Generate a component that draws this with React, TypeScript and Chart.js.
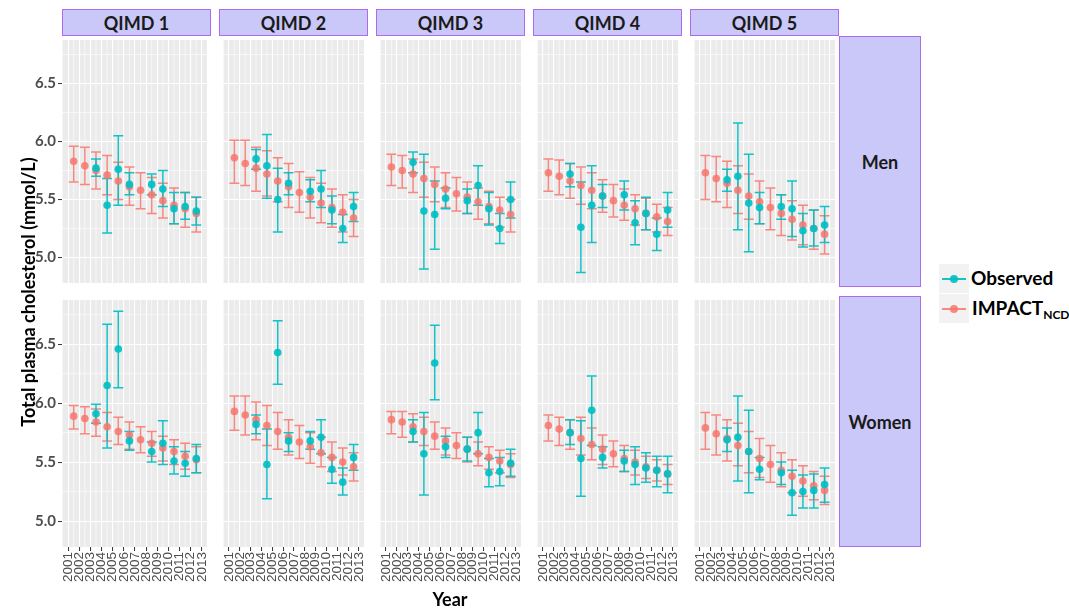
import React, { useEffect, useRef } from "react";
import { Chart, registerables } from "chart.js";

Chart.register(...registerables);

// ---------- labels / ticks ----------
const tickYears = [2001, 2002, 2003, 2004, 2005, 2006, 2007, 2008, 2009, 2010, 2011, 2012, 2013];
const surveyX = [2001.5, 2002.5, 2003.5, 2004.5, 2005.5, 2006.5, 2007.5, 2008.5, 2009.5, 2010.5, 2011.5, 2012.5];
const yTickValues = [5.0, 5.5, 6.0, 6.5];
const yMinorValues = [4.75, 5.25, 5.75, 6.25, 6.75];
const xMinorValues = [2000.5, 2001.5, 2002.5, 2003.5, 2004.5, 2005.5, 2006.5, 2007.5, 2008.5, 2009.5, 2010.5, 2011.5, 2012.5, 2013.5];
const qimdLabels = ["QIMD 1", "QIMD 2", "QIMD 3", "QIMD 4", "QIMD 5"];
const sexLabels = ["Men", "Women"];

// ---------- Men ----------
const menQ1Impact = [5.83, 5.79, 5.75, 5.71, 5.66, 5.61, 5.58, 5.54, 5.49, 5.45, 5.42, 5.38];
const menQ1ImpactHi = [5.96, 5.95, 5.91, 5.88, 5.82, 5.78, 5.73, 5.69, 5.64, 5.60, 5.56, 5.52];
const menQ1ImpactLo = [5.65, 5.63, 5.59, 5.54, 5.50, 5.45, 5.42, 5.38, 5.34, 5.29, 5.26, 5.22];
const menQ1Obs = [null, null, 5.77, 5.45, 5.76, 5.63, null, 5.63, 5.59, 5.42, 5.44, 5.40];
const menQ1ObsHi = [null, null, 5.85, 5.68, 6.05, 5.73, null, 5.72, 5.75, 5.56, 5.56, 5.52];
const menQ1ObsLo = [null, null, 5.70, 5.21, 5.45, 5.54, null, 5.54, 5.44, 5.29, 5.33, 5.28];

const menQ2Impact = [5.86, 5.81, 5.77, 5.72, 5.66, 5.61, 5.56, 5.52, 5.47, 5.43, 5.39, 5.34];
const menQ2ImpactHi = [6.01, 6.01, 5.95, 5.92, 5.86, 5.81, 5.74, 5.69, 5.64, 5.59, 5.54, 5.50];
const menQ2ImpactLo = [5.64, 5.62, 5.57, 5.53, 5.48, 5.43, 5.39, 5.34, 5.30, 5.26, 5.22, 5.18];
const menQ2Obs = [null, null, 5.85, 5.79, 5.50, 5.64, null, 5.57, 5.59, 5.41, 5.25, 5.44];
const menQ2ObsHi = [null, null, 5.93, 6.06, 5.77, 5.73, null, 5.67, 5.75, 5.53, 5.37, 5.56];
const menQ2ObsLo = [null, null, 5.76, 5.51, 5.22, 5.54, null, 5.48, 5.43, 5.29, 5.13, 5.31];

const menQ3Impact = [5.78, 5.75, 5.72, 5.68, 5.63, 5.59, 5.55, 5.52, 5.48, 5.44, 5.41, 5.37];
const menQ3ImpactHi = [5.89, 5.88, 5.85, 5.82, 5.78, 5.73, 5.69, 5.65, 5.60, 5.57, 5.52, 5.50];
const menQ3ImpactLo = [5.62, 5.60, 5.56, 5.52, 5.48, 5.43, 5.40, 5.38, 5.33, 5.29, 5.26, 5.22];
const menQ3Obs = [null, null, 5.82, 5.40, 5.37, 5.51, null, 5.49, 5.62, 5.42, 5.25, 5.50];
const menQ3ObsHi = [null, null, 5.91, 5.89, 5.66, 5.60, null, 5.59, 5.79, 5.56, 5.38, 5.65];
const menQ3ObsLo = [null, null, 5.73, 4.90, 5.07, 5.42, null, 5.38, 5.45, 5.28, 5.12, 5.34];

const menQ4Impact = [5.73, 5.70, 5.66, 5.62, 5.58, 5.53, 5.49, 5.45, 5.42, 5.38, 5.35, 5.31];
const menQ4ImpactHi = [5.85, 5.84, 5.81, 5.78, 5.73, 5.67, 5.63, 5.59, 5.54, 5.51, 5.46, 5.43];
const menQ4ImpactLo = [5.57, 5.54, 5.51, 5.46, 5.42, 5.39, 5.35, 5.32, 5.28, 5.24, 5.22, 5.19];
const menQ4Obs = [null, null, 5.72, 5.26, 5.45, 5.53, null, 5.54, 5.30, 5.38, 5.20, 5.41];
const menQ4ObsHi = [null, null, 5.81, 5.65, 5.79, 5.63, null, 5.66, 5.49, 5.52, 5.34, 5.56];
const menQ4ObsLo = [null, null, 5.61, 4.87, 5.13, 5.43, null, 5.41, 5.11, 5.24, 5.06, 5.26];

const menQ5Impact = [5.73, 5.68, 5.64, 5.58, 5.53, 5.48, 5.43, 5.38, 5.33, 5.28, 5.25, 5.20];
const menQ5ImpactHi = [5.88, 5.87, 5.83, 5.79, 5.72, 5.66, 5.60, 5.54, 5.49, 5.45, 5.41, 5.36];
const menQ5ImpactLo = [5.50, 5.48, 5.43, 5.38, 5.33, 5.29, 5.24, 5.19, 5.15, 5.11, 5.07, 5.03];
const menQ5Obs = [null, null, 5.67, 5.70, 5.47, 5.43, null, 5.44, 5.42, 5.23, 5.25, 5.28];
const menQ5ObsHi = [null, null, 5.76, 6.16, 5.89, 5.56, null, 5.54, 5.66, 5.38, 5.41, 5.44];
const menQ5ObsLo = [null, null, 5.57, 5.24, 5.05, 5.29, null, 5.33, 5.18, 5.09, 5.10, 5.13];

// ---------- Women ----------
const womenQ1Impact = [5.89, 5.87, 5.84, 5.80, 5.76, 5.73, 5.69, 5.66, 5.62, 5.59, 5.55, 5.52];
const womenQ1ImpactHi = [5.98, 5.97, 5.95, 5.92, 5.88, 5.84, 5.80, 5.76, 5.72, 5.69, 5.66, 5.63];
const womenQ1ImpactLo = [5.78, 5.74, 5.72, 5.68, 5.65, 5.61, 5.58, 5.55, 5.51, 5.48, 5.44, 5.41];
const womenQ1Obs = [null, null, 5.91, 6.15, 6.46, 5.68, null, 5.59, 5.66, 5.51, 5.49, 5.53];
const womenQ1ObsHi = [null, null, 5.99, 6.67, 6.78, 5.76, null, 5.67, 5.85, 5.63, 5.59, 5.65];
const womenQ1ObsLo = [null, null, 5.83, 5.62, 6.13, 5.60, null, 5.50, 5.48, 5.40, 5.38, 5.41];

const womenQ2Impact = [5.93, 5.90, 5.86, 5.81, 5.76, 5.71, 5.67, 5.63, 5.58, 5.54, 5.50, 5.46];
const womenQ2ImpactHi = [6.06, 6.06, 6.01, 5.98, 5.92, 5.86, 5.81, 5.75, 5.71, 5.67, 5.62, 5.58];
const womenQ2ImpactLo = [5.77, 5.73, 5.69, 5.64, 5.61, 5.56, 5.53, 5.49, 5.46, 5.42, 5.39, 5.34];
const womenQ2Obs = [null, null, 5.82, 5.48, 6.43, 5.68, null, 5.68, 5.71, 5.44, 5.33, 5.54];
const womenQ2ObsHi = [null, null, 5.90, 5.78, 6.70, 5.75, null, 5.76, 5.86, 5.54, 5.45, 5.65];
const womenQ2ObsLo = [null, null, 5.74, 5.19, 6.16, 5.59, null, 5.61, 5.57, 5.32, 5.22, 5.43];

const womenQ3Impact = [5.86, 5.84, 5.80, 5.76, 5.72, 5.68, 5.64, 5.61, 5.57, 5.54, 5.51, 5.48];
const womenQ3ImpactHi = [5.93, 5.93, 5.91, 5.88, 5.84, 5.79, 5.75, 5.71, 5.67, 5.63, 5.60, 5.57];
const womenQ3ImpactLo = [5.74, 5.71, 5.67, 5.64, 5.61, 5.56, 5.53, 5.50, 5.47, 5.44, 5.41, 5.37];
const womenQ3Obs = [null, null, 5.76, 5.57, 6.34, 5.63, null, 5.61, 5.75, 5.41, 5.42, 5.49];
const womenQ3ObsHi = [null, null, 5.86, 5.92, 6.66, 5.72, null, 5.71, 5.92, 5.53, 5.54, 5.61];
const womenQ3ObsLo = [null, null, 5.67, 5.22, 6.03, 5.54, null, 5.51, 5.57, 5.29, 5.30, 5.38];

const womenQ4Impact = [5.81, 5.78, 5.75, 5.70, 5.65, 5.61, 5.57, 5.53, 5.50, 5.46, 5.43, 5.40];
const womenQ4ImpactHi = [5.90, 5.88, 5.86, 5.88, 5.79, 5.73, 5.68, 5.64, 5.60, 5.55, 5.52, 5.48];
const womenQ4ImpactLo = [5.68, 5.64, 5.61, 5.56, 5.52, 5.48, 5.46, 5.42, 5.39, 5.36, 5.34, 5.31];
const womenQ4Obs = [null, null, 5.75, 5.53, 5.94, 5.54, null, 5.51, 5.48, 5.45, 5.43, 5.40];
const womenQ4ObsHi = [null, null, 5.86, 5.85, 6.23, 5.63, null, 5.60, 5.63, 5.58, 5.55, 5.55];
const womenQ4ObsLo = [null, null, 5.65, 5.21, 5.64, 5.45, null, 5.42, 5.31, 5.33, 5.29, 5.24];

const womenQ5Impact = [5.79, 5.74, 5.70, 5.64, 5.59, 5.53, 5.48, 5.43, 5.38, 5.34, 5.30, 5.26];
const womenQ5ImpactHi = [5.92, 5.90, 5.86, 5.83, 5.76, 5.70, 5.64, 5.58, 5.52, 5.47, 5.42, 5.38];
const womenQ5ImpactLo = [5.61, 5.56, 5.51, 5.47, 5.41, 5.37, 5.33, 5.29, 5.24, 5.21, 5.18, 5.14];
const womenQ5Obs = [null, null, 5.69, 5.71, 5.59, 5.44, null, 5.41, 5.24, 5.25, 5.26, 5.31];
const womenQ5ObsHi = [null, null, 5.79, 6.06, 5.94, 5.54, null, 5.50, 5.43, 5.39, 5.40, 5.45];
const womenQ5ObsLo = [null, null, 5.59, 5.34, 5.24, 5.35, null, 5.31, 5.05, 5.11, 5.11, 5.16];

type PanelSeries = {
  imp: (number | null)[]; impLo: (number | null)[]; impHi: (number | null)[];
  obs: (number | null)[]; obsLo: (number | null)[]; obsHi: (number | null)[];
};

const panelData: PanelSeries[][] = [
  [
    { imp: menQ1Impact, impLo: menQ1ImpactLo, impHi: menQ1ImpactHi, obs: menQ1Obs, obsLo: menQ1ObsLo, obsHi: menQ1ObsHi },
    { imp: menQ2Impact, impLo: menQ2ImpactLo, impHi: menQ2ImpactHi, obs: menQ2Obs, obsLo: menQ2ObsLo, obsHi: menQ2ObsHi },
    { imp: menQ3Impact, impLo: menQ3ImpactLo, impHi: menQ3ImpactHi, obs: menQ3Obs, obsLo: menQ3ObsLo, obsHi: menQ3ObsHi },
    { imp: menQ4Impact, impLo: menQ4ImpactLo, impHi: menQ4ImpactHi, obs: menQ4Obs, obsLo: menQ4ObsLo, obsHi: menQ4ObsHi },
    { imp: menQ5Impact, impLo: menQ5ImpactLo, impHi: menQ5ImpactHi, obs: menQ5Obs, obsLo: menQ5ObsLo, obsHi: menQ5ObsHi },
  ],
  [
    { imp: womenQ1Impact, impLo: womenQ1ImpactLo, impHi: womenQ1ImpactHi, obs: womenQ1Obs, obsLo: womenQ1ObsLo, obsHi: womenQ1ObsHi },
    { imp: womenQ2Impact, impLo: womenQ2ImpactLo, impHi: womenQ2ImpactHi, obs: womenQ2Obs, obsLo: womenQ2ObsLo, obsHi: womenQ2ObsHi },
    { imp: womenQ3Impact, impLo: womenQ3ImpactLo, impHi: womenQ3ImpactHi, obs: womenQ3Obs, obsLo: womenQ3ObsLo, obsHi: womenQ3ObsHi },
    { imp: womenQ4Impact, impLo: womenQ4ImpactLo, impHi: womenQ4ImpactHi, obs: womenQ4Obs, obsLo: womenQ4ObsLo, obsHi: womenQ4ObsHi },
    { imp: womenQ5Impact, impLo: womenQ5ImpactLo, impHi: womenQ5ImpactHi, obs: womenQ5Obs, obsLo: womenQ5ObsLo, obsHi: womenQ5ObsHi },
  ],
];

// ---------- styling / layout ----------
const TEAL = "rgba(0,191,196,0.92)";
const RED = "rgba(248,118,109,0.85)";
const PANEL_BG = "#EBEBEB";
const STRIP_FILL = "#C9C8F8";
const STRIP_BORDER = "#B06AF0";
const PANEL_LEFT0 = 62;
const PANEL_STEP = 157;
const PANEL_W = 149;
const PANEL_TOPS = [36, 296];
const PANEL_H = 251;
const Y_AXIS_W = 30;
const X_AXIS_H = 52;
const X_MIN = 2000.45;
const X_MAX = 2013.46;
const Y_MIN = 4.78;
const Y_MAX = 6.875;
const CAP = 5;
const FONT = "Lato, 'Open Sans', sans-serif";

const panelBgPlugin = {
  id: "panelBg",
  beforeDraw(chart: any) {
    const { ctx, chartArea: a, scales } = chart;
    const x = scales.x, y = scales.y;
    ctx.save();
    ctx.fillStyle = PANEL_BG;
    ctx.fillRect(a.left, a.top, a.right - a.left, a.bottom - a.top);
    ctx.strokeStyle = "#FFFFFF";
    ctx.lineWidth = 0.6;
    ctx.beginPath();
    yMinorValues.forEach((v) => {
      const py = y.getPixelForValue(v);
      if (py >= a.top && py <= a.bottom) { ctx.moveTo(a.left, py); ctx.lineTo(a.right, py); }
    });
    xMinorValues.forEach((v) => {
      const px = x.getPixelForValue(v);
      if (px >= a.left && px <= a.right) { ctx.moveTo(px, a.top); ctx.lineTo(px, a.bottom); }
    });
    ctx.stroke();
    ctx.restore();
  },
};

const errorBarPlugin = {
  id: "errorBars",
  beforeDatasetsDraw(chart: any) {
    const { ctx, chartArea: a, scales } = chart;
    const x = scales.x, y = scales.y;
    ctx.save();
    ctx.beginPath();
    ctx.rect(a.left, a.top, a.right - a.left, a.bottom - a.top);
    ctx.clip();
    [1, 0].forEach((di) => {
      const ds = chart.data.datasets[di];
      ctx.strokeStyle = ds.borderColor;
      ctx.lineWidth = 1.5;
      ds.data.forEach((p: any) => {
        const px = x.getPixelForValue(p.x);
        const yl = y.getPixelForValue(p.lo);
        const yh = y.getPixelForValue(p.hi);
        ctx.beginPath();
        ctx.moveTo(px, yl); ctx.lineTo(px, yh);
        ctx.moveTo(px - CAP, yl); ctx.lineTo(px + CAP, yl);
        ctx.moveTo(px - CAP, yh); ctx.lineTo(px + CAP, yh);
        ctx.stroke();
      });
    });
    ctx.restore();
  },
};

function toPoints(vals: (number | null)[], lo: (number | null)[], hi: (number | null)[]) {
  const pts: any[] = [];
  surveyX.forEach((xv, i) => {
    if (vals[i] !== null) pts.push({ x: xv, y: vals[i], lo: lo[i], hi: hi[i] });
  });
  return pts;
}

function Panel({ row, col }: { row: number; col: number }) {
  const ref = useRef<HTMLCanvasElement>(null);
  const showY = col === 0;
  const showX = row === 1;
  const w = PANEL_W + (showY ? Y_AXIS_W : 0);
  const h = PANEL_H + (showX ? X_AXIS_H : 0);
  const left = PANEL_LEFT0 + PANEL_STEP * col - (showY ? Y_AXIS_W : 0);
  const top = PANEL_TOPS[row];

  useEffect(() => {
    const d = panelData[row][col];
    const chart = new Chart(ref.current as HTMLCanvasElement, {
      type: "scatter",
      data: {
        datasets: [
          {
            label: "Observed",
            data: toPoints(d.obs, d.obsLo, d.obsHi),
            backgroundColor: TEAL,
            borderColor: TEAL,
            pointRadius: 3.8,
            pointBorderWidth: 0,
          },
          {
            label: "IMPACT",
            data: toPoints(d.imp, d.impLo, d.impHi),
            backgroundColor: RED,
            borderColor: RED,
            pointRadius: 3.8,
            pointBorderWidth: 0,
          },
        ],
      } as any,
      options: {
        animation: false,
        responsive: false,
        devicePixelRatio: 1,
        events: [],
        layout: { padding: 0 },
        plugins: { legend: { display: false }, tooltip: { enabled: false } },
        scales: {
          x: {
            type: "linear",
            min: X_MIN,
            max: X_MAX,
            afterBuildTicks: (s: any) => { s.ticks = tickYears.map((v) => ({ value: v })); },
            afterFit: (s: any) => { s.height = showX ? X_AXIS_H : 0; s.paddingLeft = 0; s.paddingRight = 0; },
            ticks: {
              display: showX,
              autoSkip: false,
              minRotation: 90,
              maxRotation: 90,
              padding: 1,
              color: "#4D4D4D",
              font: { family: "'Liberation Sans', Arial, sans-serif", size: 13.5 },
              callback: (v: any) => String(v),
            },
            grid: { color: "#FFFFFF", lineWidth: 1.1, drawTicks: showX, tickLength: 4, tickColor: "#333333", tickWidth: 1 },
            border: { display: false },
          },
          y: {
            type: "linear",
            min: Y_MIN,
            max: Y_MAX,
            afterBuildTicks: (s: any) => { s.ticks = yTickValues.map((v) => ({ value: v })); },
            afterFit: (s: any) => { s.width = showY ? Y_AXIS_W : 0; s.paddingTop = 0; s.paddingBottom = 0; },
            ticks: {
              display: showY,
              padding: 2,
              color: "#4D4D4D",
              font: { family: FONT, size: 15, weight: "bold" },
              callback: (v: any) => Number(v).toFixed(1),
            },
            grid: { color: "#FFFFFF", lineWidth: 1.1, drawTicks: showY, tickLength: 4, tickColor: "#333333", tickWidth: 1 },
            border: { display: false },
          },
        },
      } as any,
      plugins: [panelBgPlugin, errorBarPlugin],
    });
    return () => chart.destroy();
  }, [row, col]);

  return (
    <canvas
      ref={ref}
      width={w}
      height={h}
      style={{ position: "absolute", left, top, width: w, height: h }}
    />
  );
}

function LegendKey({ color, top }: { color: string; top: number }) {
  return (
    <div style={{ position: "absolute", left: 939, top, width: 30, height: 29, background: "#F2F2F2" }}>
      <div style={{ position: "absolute", left: 3, top: 14, width: 24, height: 1.5, background: color }} />
      <div style={{ position: "absolute", left: 11, top: 10.5, width: 8, height: 8, borderRadius: 4, background: color }} />
    </div>
  );
}

export default function App() {
  const cells: any[] = [];
  for (let r = 0; r < 2; r++) for (let c = 0; c < 5; c++) cells.push(<Panel key={`${r}-${c}`} row={r} col={c} />);

  return (
    <div style={{ position: "absolute", left: 0, top: 0, width: 1069, height: 610, background: "#FFFFFF", overflow: "hidden", fontFamily: FONT }}>
      {cells}
      {qimdLabels.map((lab, c) => (
        <div
          key={lab}
          style={{
            position: "absolute", left: PANEL_LEFT0 + PANEL_STEP * c, top: 9, width: PANEL_W, height: 27,
            boxSizing: "border-box", background: STRIP_FILL, border: `1px solid ${STRIP_BORDER}`,
            display: "flex", alignItems: "center", justifyContent: "center",
            fontWeight: 700, fontSize: 18, color: "#1A1A1A",
          }}
        >
          {lab}
        </div>
      ))}
      {sexLabels.map((lab, r) => (
        <div
          key={lab}
          style={{
            position: "absolute", left: 839, top: PANEL_TOPS[r], width: 82, height: PANEL_H,
            boxSizing: "border-box", background: STRIP_FILL, border: `1px solid ${STRIP_BORDER}`,
            display: "flex", alignItems: "center", justifyContent: "center",
            fontWeight: 700, fontSize: 18, color: "#1A1A1A",
          }}
        >
          {lab}
        </div>
      ))}
      <div
        style={{
          position: "absolute", left: 28 - 200, top: 292 - 12, width: 400, height: 24,
          transform: "rotate(-90deg)", textAlign: "center", lineHeight: "24px",
          fontWeight: 700, fontSize: 18, color: "#000",
        }}
      >
        Total plasma cholesterol (mmol/L)
      </div>
      <div
        style={{
          position: "absolute", left: 350, top: 587, width: 200, height: 24, lineHeight: "24px",
          textAlign: "center", fontWeight: 700, fontSize: 18, color: "#000",
        }}
      >
        Year
      </div>
      <LegendKey color={TEAL} top={264} />
      <LegendKey color={RED} top={294} />
      <div style={{ position: "absolute", left: 971, top: 266, fontWeight: 700, fontSize: 19, lineHeight: "24px", color: "#000" }}>
        Observed
      </div>
      <div style={{ position: "absolute", left: 972, top: 296, fontWeight: 700, fontSize: 19, lineHeight: "24px", color: "#000", whiteSpace: "nowrap" }}>
        IMPACT<sub style={{ fontSize: 12, verticalAlign: "-4px" }}>NCD</sub>
      </div>
    </div>
  );
}
